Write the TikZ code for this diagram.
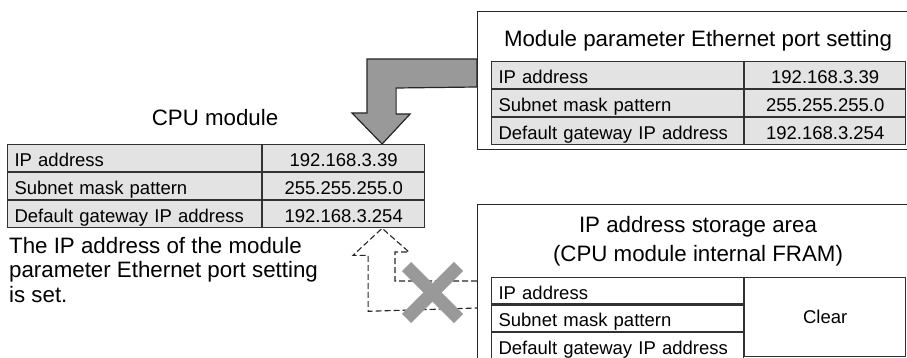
\documentclass[tikz,border=0pt]{standalone}
\usepackage{fontspec}
\setmainfont{Liberation Sans}
\usetikzlibrary{positioning,calc}
\definecolor{cellgray}{RGB}{227,227,227}
\definecolor{arrowgray}{RGB}{153,153,153}
\definecolor{rulegray}{RGB}{50,50,50}

\begin{document}
\begin{tikzpicture}[x=1pt,y=-1pt,
  head/.style={font=\fontsize{22.3}{24.5}\selectfont,inner sep=0pt},
  keycell/.style={draw=rulegray,line width=1.1pt,fill=cellgray,anchor=north west,
    text width=#1,align=left,inner xsep=7pt,inner ysep=2pt,minimum height=27pt,
    text height=17pt,text depth=0pt,font=\fontsize{18.5}{22}\selectfont},
  valcell/.style={keycell=#1,align=center},
  outbox/.style={draw=black!85,line width=1.4pt,fill=white,anchor=north west,inner sep=0pt}]
  \useasboundingbox (0,0) rectangle (907,358);

  % setting in the module parameters
  \node[outbox,minimum width=450pt,minimum height=138pt] (parbox) at (477,11) {};
  \node[head,anchor=base] (partitle) at (698,47) {Module parameter Ethernet port setting};
  \node[keycell=238pt] (parip) at (491,61) {IP address};
  \node[valcell=147pt] (paripv) at (parip.north east) {192.168.3.39};
  \node[keycell=238pt] (parmask) at (parip.south west) {Subnet mask pattern};
  \node[valcell=147pt] (parmaskv) at (parmask.north east) {255.255.255.0};
  \node[keycell=238pt] (pargw) at (parmask.south west) {Default gateway IP address};
  \node[valcell=147pt] (pargwv) at (pargw.north east) {192.168.3.254};

  % CPU module
  \node[head,anchor=base] (cputitle) at (215,126) {CPU module};
  \node[keycell=240pt] (cpuip) at (7,144) {IP address};
  \node[valcell=148pt] (cpuipv) at (cpuip.north east) {192.168.3.39};
  \node[keycell=240pt] (cpumask) at (cpuip.south west) {Subnet mask pattern};
  \node[valcell=148pt] (cpumaskv) at (cpumask.north east) {255.255.255.0};
  \node[keycell=240pt] (cpugw) at (cpumask.south west) {Default gateway IP address};
  \node[valcell=148pt] (cpugwv) at (cpugw.north east) {192.168.3.254};
  \node[head,anchor=north west,align=left] (cpunote) at (9,237)
    {The IP address of the module\\parameter Ethernet port setting\\is set.};

  % storage area in the FRAM
  \node[outbox,minimum width=450pt,minimum height=180pt] (frambox) at (477,204) {};
  \node[head,anchor=base] (framtitle) at (698,233) {IP address storage area};
  \node[head,anchor=base] (framsub) at (698,261) {(CPU module internal FRAM)};
  \node[keycell=238pt,fill=white,minimum height=26.4pt] (framip) at (491,277) {IP address};
  \node[keycell=238pt,fill=white,minimum height=26.4pt] (frammask) at (framip.south west) {Subnet mask pattern};
  \node[keycell=238pt,fill=white,minimum height=26.4pt] (framgw) at (frammask.south west) {Default gateway IP address};
  \node[valcell=147pt,fill=white,minimum height=79.2pt,text height=,text depth=] (framclr) at (framip.north east) {Clear};

  % copied over
  \coordinate (tipA) at ($(cpuipv.north west)+(120,0)$);
  \draw[fill=arrowgray,draw=black!85,line width=1.2pt,line join=miter]
    (tipA) -- ++(28,-30) -- ++(-14,0) -- ++(0,-26) -- (parbox.west |- 0,87)
    -- (parbox.west |- 0,59) -- ++(-110,0) -- ++(0,54) -- ++(-15,0) -- cycle;

  % not taken from the FRAM
  \coordinate (tipB) at ($(cpugwv.south west)+(120,0)$);
  \draw[dashed,draw=black!85,line width=1.1pt,dash pattern=on 6pt off 3pt]
    (frambox.west |- 0,281) -- ++(-82,0) -- ++(0,-29) -- ++(14,0) -- (tipB)
    -- ++(-29,27) -- ++(15,0) -- ++(0,56) -- (frambox.west |- 0,308);
  \draw[arrowgray,line width=13pt] (406.5,266.5) -- (458.5,318.5);
  \draw[arrowgray,line width=13pt] (406.5,318.5) -- (458.5,266.5);
\end{tikzpicture}
\end{document}
